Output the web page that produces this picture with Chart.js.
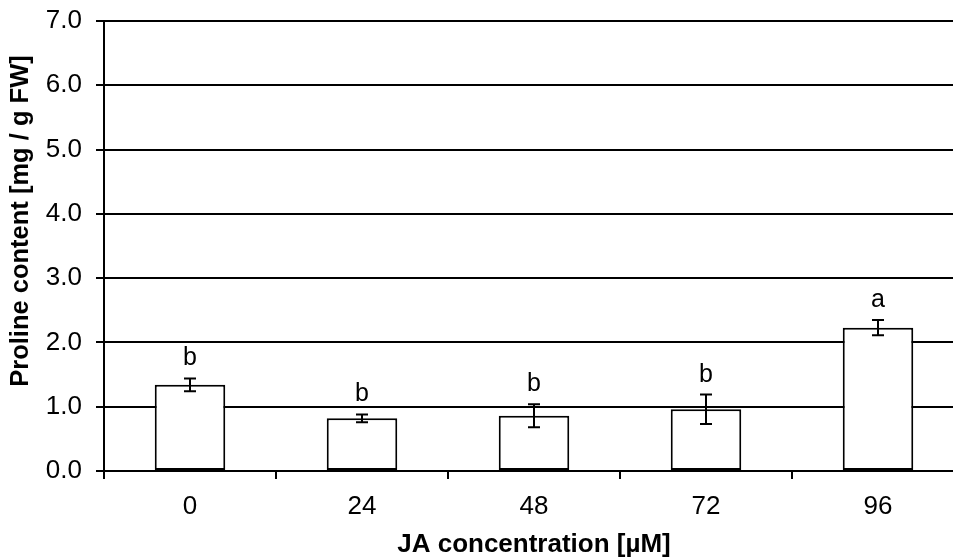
<!DOCTYPE html>
<html>
<head>
<meta charset="utf-8">
<script src="https://cdn.jsdelivr.net/npm/chart.js@4"></script>
<style>
  html, body { margin: 0; padding: 0; background: #fff; }
  #wrap { width: 953px; height: 557px; overflow: hidden; }
</style>
</head>
<body>
<div id="wrap">
  <canvas id="proline_chart" width="975" height="557"></canvas>
</div>
<script>
// JA concentrations (µM)
const concentrations = ['0', '24', '48', '72', '96'];
// proline content (mg / g FW) and its error
const proline = [1.34, 0.82, 0.86, 0.96, 2.23];
const prolineErr = [0.10, 0.06, 0.18, 0.23, 0.12];
// significance letters
const letters = ['b', 'b', 'b', 'b', 'a'];
const yTicks = [0, 1, 2, 3, 4, 5, 6, 7];

const fontFamily = '"Liberation Sans", Arial, sans-serif';

// error bars + letters on top of each bar
const errorBarPlugin = {
    id: 'errorBars',
    afterDatasetsDraw(chart) {
        const ctx = chart.ctx;
        const yScale = chart.scales.y;
        const meta = chart.getDatasetMeta(0);
        ctx.save();
        ctx.strokeStyle = '#000';
        ctx.lineWidth = 2;
        meta.data.forEach((bar, i) => {
            const x = bar.x;
            const top = yScale.getPixelForValue(proline[i] + prolineErr[i]);
            const bottom = yScale.getPixelForValue(proline[i] - prolineErr[i]);
            ctx.beginPath();
            ctx.moveTo(x, top);
            ctx.lineTo(x, bottom);
            ctx.moveTo(x - 6, top);
            ctx.lineTo(x + 6, top);
            ctx.moveTo(x - 6, bottom);
            ctx.lineTo(x + 6, bottom);
            ctx.stroke();

            ctx.fillStyle = '#000';
            ctx.font = '25px ' + fontFamily;
            ctx.textAlign = 'center';
            ctx.textBaseline = 'alphabetic';
            ctx.fillText(letters[i], x, top - 13);
        });
        ctx.restore();
    }
};

// y axis title, sits a bit above the axis centre
const yTitlePlugin = {
    id: 'yTitle',
    afterDraw(chart) {
        const ctx = chart.ctx;
        ctx.save();
        ctx.translate(21, 221);
        ctx.rotate(-Math.PI / 2);
        ctx.font = 'bold 25.5px ' + fontFamily;
        ctx.fillStyle = '#000';
        ctx.textAlign = 'center';
        ctx.textBaseline = 'middle';
        ctx.fillText('Proline content [mg / g FW]', 0, 0);
        ctx.restore();
    }
};

const ctx = document.getElementById('proline_chart');

new Chart(ctx, {
    type: 'bar',
    data: {
        labels: concentrations,
        datasets: [{
            label: 'Proline',
            data: proline,
            backgroundColor: '#fff',
            borderColor: '#000',
            borderWidth: 2,
            borderSkipped: false,
            barPercentage: 0.41,
            categoryPercentage: 1
        }]
    },
    options: {
        responsive: false,
        animation: false,
        devicePixelRatio: 1,
        layout: {
            padding: { left: 46, top: 21, right: 11, bottom: 0 }
        },
        plugins: {
            legend: { display: false },
            tooltip: { enabled: false }
        },
        scales: {
            x: {
                offset: true,
                grid: {
                    offset: true,
                    drawOnChartArea: false,
                    drawTicks: true,
                    tickLength: 8,
                    color: '#000',
                    lineWidth: 2
                },
                border: { display: true, color: '#000', width: 2 },
                ticks: {
                    color: '#000',
                    padding: 12,
                    font: { family: fontFamily, size: 26 }
                },
                title: {
                    display: true,
                    text: 'JA concentration [µM]',
                    color: '#000',
                    padding: { top: 0, bottom: -1 },
                    font: { family: fontFamily, size: 26, weight: 'bold', lineHeight: 1 }
                },
                afterFit: (scale) => { scale.height = 86; }
            },
            y: {
                min: 0,
                max: 7,
                afterBuildTicks: (scale) => {
                    scale.ticks = yTicks.map(v => ({ value: v }));
                },
                grid: {
                    color: '#000',
                    lineWidth: 2,
                    tickLength: 8
                },
                border: { display: true, color: '#000', width: 2 },
                ticks: {
                    color: '#000',
                    padding: 14,
                    font: { family: fontFamily, size: 26, lineHeight: 0.5 },
                    callback: (v) => Number(v).toFixed(1)
                },
                afterFit: (scale) => { scale.width = 58; }
            }
        }
    },
    plugins: [errorBarPlugin, yTitlePlugin]
});
</script>
</body>
</html>
